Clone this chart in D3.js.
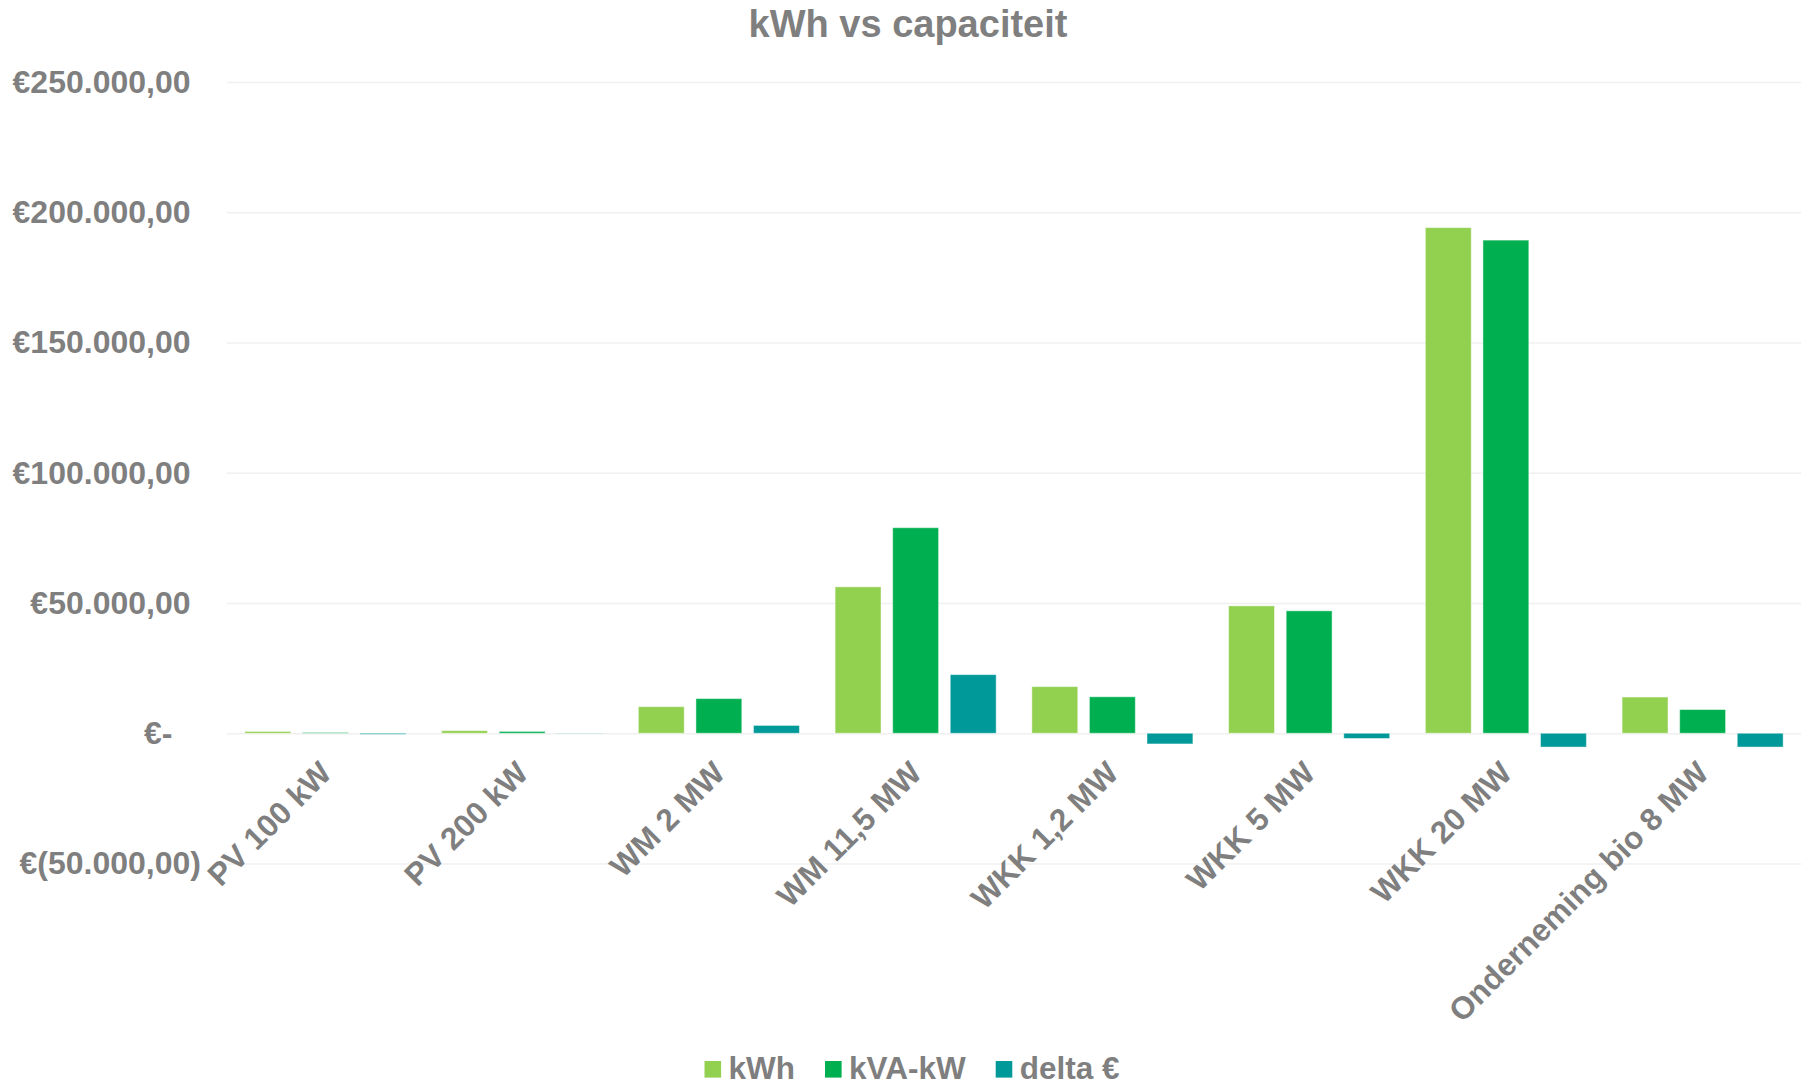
<!DOCTYPE html>
<html lang="nl">
<head>
<meta charset="UTF-8" />
<title>kWh vs capaciteit</title>
<script src="https://cdn.jsdelivr.net/npm/d3@7"></script>
<style>
  body { margin: 0; background: #fff; }
  svg { display: block; font-family: "Liberation Sans", Arial, sans-serif; font-weight: bold; }
  .grid line { stroke: #f0f0f0; stroke-width: 1.5; }
  .grid path { display: none; }
  .lbl { fill: #7f7f7f; }
</style>
</head>
<body>
<svg id="chart" width="1812" height="1085"></svg>
<script>
// chart data
const categories = ["PV 100 kW", "PV 200 kW", "WM 2 MW", "WM 11,5 MW", "WKK 1,2 MW", "WKK 5 MW", "WKK 20 MW", "Onderneming bio 8 MW"];
const seriesNames = ["kWh", "kVA-kW", "delta €"];
const kWh = [700, 1000, 10200, 56200, 17900, 48900, 194100, 13900];
const kVAkW = [300, 700, 13300, 78900, 14000, 47000, 189300, 9100];
const delta = [-400, -100, 3000, 22500, -4100, -2000, -5300, -5300];
const yTicks = [-50000, 0, 50000, 100000, 150000, 200000, 250000];
const colors = ["#92D050", "#00B050", "#009999"];

const W = 1812, H = 1085;
const plot = {left: 227, right: 1801, top: 82, bottom: 863.5};
const svg = d3.select("#chart");

const rows = categories.map((c, i) => ({cat: c, vals: [kWh[i], kVAkW[i], delta[i]]}));

const x0 = d3.scaleBand().domain(categories).range([plot.left, plot.right]).padding(0);
const x1 = d3.scaleBand().domain(d3.range(seriesNames.length))
  .range([0, x0.bandwidth()]).paddingInner(0.203).paddingOuter(0.31);
const y = d3.scaleLinear().domain([-50000, 250000]).range([plot.bottom, plot.top]);

const nf = d3.formatLocale({decimal: ",", thousands: ".", grouping: [3], currency: ["€", ""]}).format(",.2f");
function euro(v) {
  if (v === 0) return "€-";
  if (v < 0) return "€(" + nf(-v) + ")";
  return "€" + nf(v);
}

// title
svg.append("text").attr("class", "lbl")
  .attr("x", 908).attr("y", 37)
  .attr("text-anchor", "middle").style("font-size", "38px")
  .text("kWh vs capaciteit");

// gridlines
svg.append("g").attr("class", "grid")
  .attr("transform", `translate(${plot.left},0)`)
  .call(d3.axisLeft(y).tickValues(yTicks).tickSize(-(plot.right - plot.left)).tickFormat(""));

// y labels (accounting style alignment)
const yAxis = svg.append("g")
  .attr("transform", `translate(${plot.left},0)`)
  .call(d3.axisLeft(y).tickValues(yTicks).tickSize(0).tickFormat(euro));
yAxis.select(".domain").remove();
yAxis.selectAll("text")
  .attr("class", "lbl")
  .attr("fill", null)
  .style("font-size", "32px")
  .attr("x", d => d < 0 ? -26 : d === 0 ? -54.5 : -36.5);

// bars
const groups = svg.append("g").selectAll("g")
  .data(rows).join("g")
  .attr("transform", d => `translate(${x0(d.cat)},0)`);
groups.selectAll("rect")
  .data(d => d.vals.map((v, k) => ({k, v})))
  .join("rect")
  .attr("x", d => x1(d.k))
  .attr("width", x1.bandwidth())
  .attr("y", d => y(Math.max(0, d.v)))
  .attr("height", d => Math.abs(y(d.v) - y(0)))
  .attr("fill", d => colors[d.k])
  .attr("stroke", "#fff").attr("stroke-opacity", 0.45).attr("stroke-width", 1);

// category labels
svg.append("g").selectAll("text")
  .data(categories).join("text")
  .attr("class", "lbl")
  .attr("text-anchor", "end")
  .style("font-size", "31.5px")
  .attr("transform", d => `translate(${x0(d) + x0.bandwidth() / 2 + 8},775) rotate(-45)`)
  .text(d => d);

// legend
const legend = svg.append("g");
let lx = 0;
seriesNames.forEach((name, k) => {
  const g = legend.append("g").attr("transform", `translate(${lx},0)`);
  g.append("rect").attr("x", 0).attr("y", 1061).attr("width", 16.6).attr("height", 16.6).attr("fill", colors[k]);
  const t = g.append("text").attr("class", "lbl").attr("x", 24).attr("y", 1078.5)
    .style("font-size", "31.5px").text(name);
  lx += 24 + t.node().getComputedTextLength() + 30;
});
const legendW = lx - 30;
legend.attr("transform", `translate(${912 - legendW / 2},0)`);
</script>
</body>
</html>
